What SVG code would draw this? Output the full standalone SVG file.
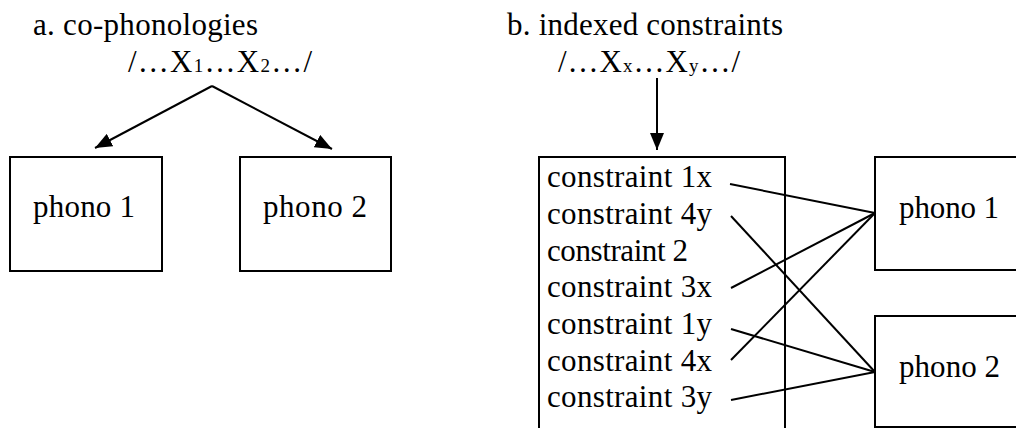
<svg xmlns="http://www.w3.org/2000/svg" width="1016" height="428" viewBox="0 0 1016 428">
<style>
.t{font-family:"Liberation Serif","Times New Roman",serif;font-size:31px;fill:#000}
.sub{font-size:19px}
.box{fill:#fff;stroke:#000;stroke-width:2}
.ln{stroke:#000;stroke-width:2;fill:none}
</style>
<defs>
<marker id="ah" markerUnits="userSpaceOnUse" markerWidth="18" markerHeight="14" refX="17" refY="7" orient="auto">
<path d="M0,0 L17,7 L0,14 z" fill="#000"/>
</marker>
</defs>
<rect width="1016" height="428" fill="#fff"/>
<g id="title-a"><text class="t" x="33" y="35" textLength="225">a. co-phonologies</text></g>
<g id="input-a"><text class="t" x="128" y="72" textLength="184">/…X<tspan class="sub">1</tspan>…X<tspan class="sub">2</tspan>…/</text></g>
<g id="a-phono1"><rect class="box" x="10" y="157" width="152" height="114"/><text class="t" x="33" y="217" textLength="102">phono 1</text></g>
<g id="a-phono2"><rect class="box" x="240" y="157" width="151" height="114"/><text class="t" x="263" y="217" textLength="104">phono 2</text></g>
<g id="title-b"><text class="t" x="507" y="35" textLength="276">b. indexed constraints</text></g>
<g id="input-b"><text class="t" x="558" y="72" textLength="182">/…X<tspan class="sub">x</tspan>…X<tspan class="sub">y</tspan>…/</text></g>
<g id="constraints"><rect class="box" x="539" y="157" width="246" height="273"/>
<text class="t" x="547" y="187" textLength="165">constraint 1x</text>
<text class="t" x="547" y="224" textLength="165">constraint 4y</text>
<text class="t" x="547" y="261" textLength="141">constraint 2</text>
<text class="t" x="547" y="297" textLength="165">constraint 3x</text>
<text class="t" x="547" y="334" textLength="165">constraint 1y</text>
<text class="t" x="547" y="371" textLength="165">constraint 4x</text>
<text class="t" x="547" y="407" textLength="165">constraint 3y</text>
</g>
<g id="b-phono1"><rect class="box" x="875" y="157" width="160" height="113"/><text class="t" x="899" y="218" textLength="100">phono 1</text></g>
<g id="b-phono2"><rect class="box" x="875" y="316" width="160" height="111"/><text class="t" x="899" y="377" textLength="101">phono 2</text></g>
<g id="connectors">
<path class="ln" d="M212,86 L95,148" marker-end="url(#ah)"/>
<path class="ln" d="M212,86 L332,149" marker-end="url(#ah)"/>
<path class="ln" d="M657,78 L657,150" marker-end="url(#ah)"/>
<path class="ln" d="M730,184 L875,213"/>
<path class="ln" d="M731,288 L875,213"/>
<path class="ln" d="M731,360 L875,213"/>
<path class="ln" d="M731,216 L875,372"/>
<path class="ln" d="M731,329 L875,372"/>
<path class="ln" d="M731,400 L875,372"/>
</g>
</svg>
